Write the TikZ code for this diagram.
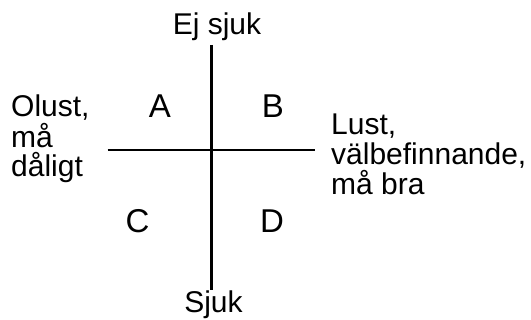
\documentclass[tikz,border=0pt]{standalone}
\usepackage{fontspec}
\setmainfont{Liberation Sans}
\begin{document}
\begin{tikzpicture}[x=1pt,y=-1pt,
  lbl/.style={inner sep=0pt,anchor=base west,font=\fontsize{30}{32}\selectfont},
  clbl/.style={inner sep=0pt,anchor=base,font=\fontsize{30}{32}\selectfont},
  quad/.style={inner sep=0pt,anchor=base,font=\fontsize{33}{35}\selectfont},
  axis/.style={line width=2.6pt}]
\useasboundingbox (0,0) rectangle (531,320);
\coordinate (vtop) at (211.7,45);
\coordinate (vbot) at (211.7,290);
\coordinate (hleft) at (107.7,150);
\coordinate (hright) at (315,150);
\draw[axis] (vtop) -- (vbot);
\draw[axis] (hleft) -- (hright);
\node[clbl] (ej) at (217,35) {Ej sjuk};
\node[clbl] (sj) at (213.5,313) {Sjuk};
\node[quad] (A) at (160,118) {A};
\node[quad] (B) at (273,118) {B};
\node[quad] (C) at (137.5,233) {C};
\node[quad] (D) at (272,233) {D};
\node[lbl] (l1) at (11,117) {Olust,};
\node[lbl] (l2) at (11,148) {må};
\node[lbl] (l3) at (11,177) {dåligt};
\node[lbl] (r1) at (331,135) {Lust,};
\node[lbl] (r2) at (331,165) {välbefinnande,};
\node[lbl] (r3) at (331,195) {må bra};
\end{tikzpicture}
\end{document}
